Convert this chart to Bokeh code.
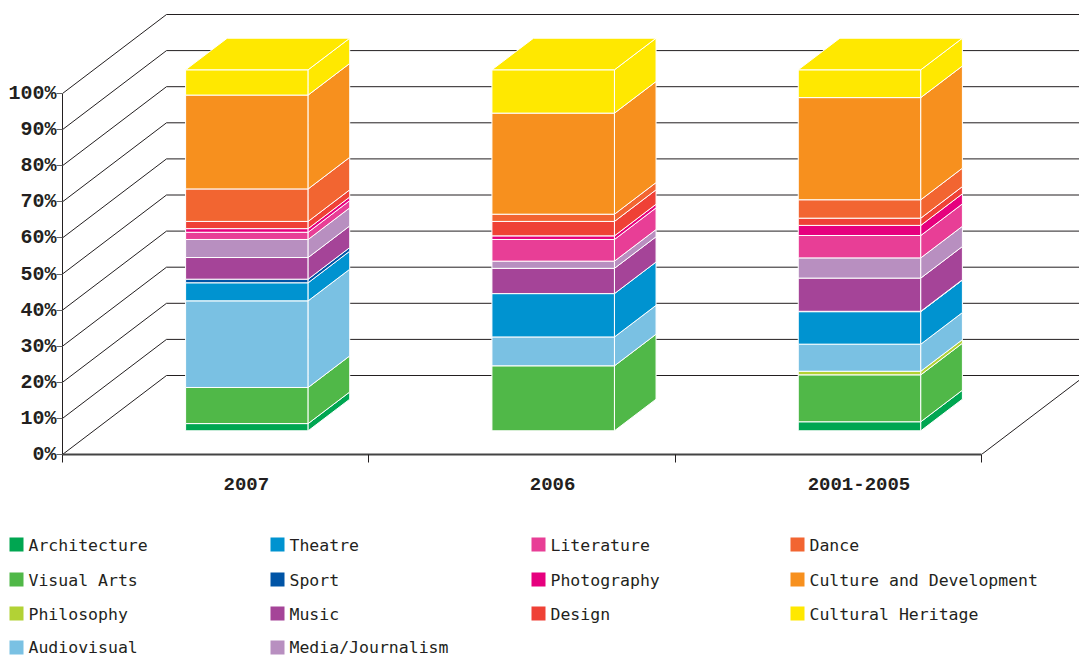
from bokeh.plotting import figure
from bokeh.layouts import column
from bokeh.models import Range1d, FixedTicker
from bokeh.core.properties import value
from bokeh.embed import file_html
from bokeh.resources import INLINE

periods = ["2007", "2006", "2001-2005"]
y_ticks = [0, 10, 20, 30, 40, 50, 60, 70, 80, 90, 100]

series_names = ["Architecture", "Visual Arts", "Philosophy", "Audiovisual", "Theatre", "Sport", "Music",
                "Media/Journalism", "Literature", "Photography", "Design", "Dance",
                "Culture and Development", "Cultural Heritage"]
colors = ["#00a651", "#50b848", "#b2d235", "#7ac1e3", "#0093d0", "#0054a6", "#a54498",
          "#b88fc0", "#e83e96", "#e6007e", "#ef4136", "#f26531", "#f7901e", "#ffe800"]

architecture = [2, 0, 2.5]
visual_arts = [10, 18, 13]
philosophy = [0, 0, 1]
audiovisual = [24, 8, 7.5]
theatre = [5, 12, 9]
sport = [1, 0, 0.1]
music = [6, 7, 9.2]
media = [5, 2, 5.6]
literature = [2, 6, 6.2]
photography = [1, 1, 2.8]
design = [2, 4, 2]
dance = [9, 2, 5.1]
culture = [26, 28, 28.3]
heritage = [7, 12, 7.7]
series_values = [architecture, visual_arts, philosophy, audiovisual, theatre, sport, music,
                 media, literature, photography, design, dance, culture, heritage]

# Projection: category units on x, percent on y, a third "depth" coordinate d in 0..1.
PX_X = 306.33
PX_Y = 3.61
DEPTH_X = 104 / PX_X
DEPTH_Y = 79 / PX_Y
FIG_W, TOP_H, FIG_H = 1079, 510, 656
FRAME_LEFT, FRAME_BOTTOM = 62, 454
INK = "#231f20"
FONT = "DejaVu Sans Mono"
TICK_FONT = "Liberation Mono"


def proj(x, v, d):
    return x + DEPTH_X * d, v + DEPTH_Y * d


p = figure(width=FIG_W, height=TOP_H, output_backend="svg", toolbar_location=None,
           x_range=Range1d(0, (FIG_W - FRAME_LEFT) / PX_X),
           y_range=Range1d(0, FRAME_BOTTOM / PX_Y),
           min_border_left=FRAME_LEFT, min_border_right=0, min_border_top=0,
           min_border_bottom=TOP_H - FRAME_BOTTOM, outline_line_color=None, frame_align=False)
p.grid.visible = False

# walls: diagonal on the left side, horizontal along the back
for t in y_ticks:
    x0, y0 = proj(0, t, 0)
    x1, y1 = proj(0, t, 1)
    x2, y2 = proj(len(periods) + 1, t, 1)
    p.line([x0, x1, x2], [y0, y1, y2], line_color=INK, line_width=1)
# floor edge on the right
fx0, fy0 = proj(len(periods), 0, 0)
fx1, fy1 = proj(len(periods), 0, 1)
p.line([fx0, fx1], [fy0, fy1], line_color=INK, line_width=1)

# bars
BAR_W = 0.4
D0, D1 = 0.3, 0.7
bottoms = [0.0] * len(periods)
for name, col, vals in zip(series_names, colors, series_values):
    xs, ys = [], []
    for i, v in enumerate(vals):
        lo, hi = bottoms[i], bottoms[i] + v
        bottoms[i] = hi
        if v == 0:
            continue
        left, right = i + 0.5 - BAR_W / 2, i + 0.5 + BAR_W / 2
        faces = [[proj(left, lo, D0), proj(right, lo, D0), proj(right, hi, D0), proj(left, hi, D0)],
                 [proj(right, lo, D0), proj(right, lo, D1), proj(right, hi, D1), proj(right, hi, D0)]]
        if name == series_names[-1]:
            faces.append([proj(left, hi, D0), proj(right, hi, D0), proj(right, hi, D1), proj(left, hi, D1)])
        for f in faces:
            xs.append([q[0] for q in f])
            ys.append([q[1] for q in f])
    p.patches(xs, ys, fill_color=col, line_color="white", line_width=1)

# axes
yax = p.yaxis[0]
yax.ticker = FixedTicker(ticks=y_ticks)
yax.bounds = (0, 100)
yax.major_label_overrides = {t: f"{t}%" for t in y_ticks}
yax.axis_line_color = INK
yax.major_tick_line_color = "#666666"
yax.major_tick_in = 0
yax.major_tick_out = 6
yax.minor_tick_line_color = None
yax.major_label_standoff = 0
yax.major_label_text_font = TICK_FONT
yax.major_label_text_font_style = "bold"
yax.major_label_text_font_size = "20px"
yax.major_label_text_color = INK

xax = p.xaxis[0]
label_pos = [i + 0.6 for i in range(len(periods))]
xax.ticker = FixedTicker(ticks=label_pos, minor_ticks=list(range(len(periods) + 1)))
xax.bounds = (0, len(periods))
xax.major_label_overrides = dict(zip(label_pos, periods))
xax.axis_line_color = "#444444"
xax.axis_line_width = 2
xax.major_tick_line_color = None
xax.major_tick_in = 0
xax.major_tick_out = 0
xax.minor_tick_line_color = INK
xax.minor_tick_in = 0
xax.minor_tick_out = 8
xax.major_label_standoff = 15
xax.major_label_text_font = TICK_FONT
xax.major_label_text_font_style = "bold"
xax.major_label_text_font_size = "19px"
xax.major_label_text_color = INK

# legend panel: its ranges run in page pixels
COL_X = [16, 277, 538, 797]
ROW_Y = [544, 579, 613, 647]
TEXT_Y = [545, 580, 614, 647]
leg = figure(width=FIG_W, height=FIG_H - TOP_H, output_backend="svg", toolbar_location=None,
             x_range=Range1d(0, FIG_W), y_range=Range1d(FIG_H, TOP_H),
             x_axis_type=None, y_axis_type=None, min_border_left=0, min_border_right=0,
             min_border_top=0, min_border_bottom=0, outline_line_color=None, frame_align=False)
leg.grid.visible = False
legend_slots = [(0, 0), (0, 1), (0, 2), (0, 3), (1, 0), (1, 1), (1, 2), (1, 3),
                (2, 0), (2, 1), (2, 2), (3, 0), (3, 1), (3, 2)]
sx = [COL_X[c] for c, r in legend_slots]
sy = [ROW_Y[r] for c, r in legend_slots]
ty = [TEXT_Y[r] for c, r in legend_slots]
leg.scatter(sx, sy, marker="square", size=14, fill_color=colors, line_color=None)
leg.text([x + 12 for x in sx], ty, text=series_names, text_font=value(FONT),
         text_font_size="16.5px", text_color=INK, text_align="left", text_baseline="middle")

open("out.html", "w").write(file_html(column(p, leg, spacing=0), INLINE))
